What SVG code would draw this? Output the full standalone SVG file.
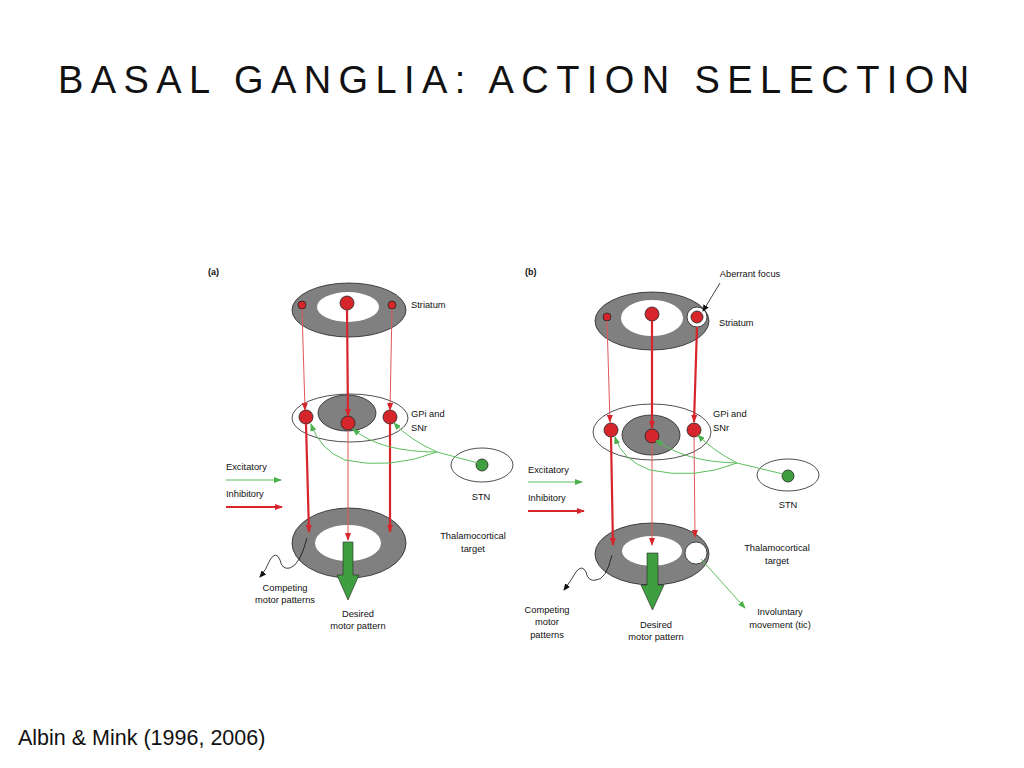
<svg xmlns="http://www.w3.org/2000/svg" width="1024" height="768" viewBox="0 0 1024 768">
<style>
text{font-family:"Liberation Sans",Arial,sans-serif;fill:#111}
.l{font-size:9.3px}
.c{text-anchor:middle}
.ring{fill:#808080;stroke:#222;stroke-width:0.8}
.hole{fill:#fff;stroke:none}
.open{fill:#fff;stroke:#222;stroke-width:0.8}
.n{fill:#d7262b;stroke:#222;stroke-width:0.8}
.g{fill:#3f9e3f;stroke:#222;stroke-width:0.8}
.rt{stroke:#e0575b;stroke-width:1;fill:none;marker-end:url(#ar)}
.rk{stroke:#d7262b;stroke-width:2.2;fill:none;marker-end:url(#ar)}
.gr{stroke:#5cbf5c;stroke-width:1;fill:none;marker-end:url(#ag)}
.bk{stroke:#111;stroke-width:0.8;fill:none;marker-end:url(#ak)}
</style>
<defs>
<marker id="ar" markerWidth="8" markerHeight="6" refX="7" refY="3" orient="auto" markerUnits="userSpaceOnUse"><path d="M0,0L8,3L0,6z" fill="#d7262b"/></marker>
<marker id="ag" markerWidth="8" markerHeight="6" refX="7" refY="3" orient="auto" markerUnits="userSpaceOnUse"><path d="M0,0L8,3L0,6z" fill="#4cb04c"/></marker>
<marker id="ak" markerWidth="7" markerHeight="6" refX="6" refY="3" orient="auto" markerUnits="userSpaceOnUse"><path d="M0,0L7,3L0,6z" fill="#111"/></marker>
</defs>
<text x="58" y="93" font-size="38" letter-spacing="7.4" font-weight="300">BASAL GANGLIA: ACTION SELECTION</text>
<text x="18" y="745" font-size="21.5">Albin &amp; Mink (1996, 2006)</text>

<g id="panel-a">
<text x="208" y="275" font-size="9" font-weight="bold">(a)</text>
<g id="a-striatum"><ellipse class="ring" cx="349" cy="310" rx="57" ry="27"/><ellipse class="hole" cx="348" cy="307" rx="31" ry="15"/>
<circle class="n" cx="302" cy="305" r="4"/><circle class="n" cx="347" cy="303" r="7"/><circle class="n" cx="392" cy="305" r="4"/>
<text class="l" x="411" y="308">Striatum</text></g>
<g id="a-gpi"><ellipse class="open" cx="350" cy="418" rx="58" ry="24"/><ellipse class="ring" cx="347" cy="413" rx="29" ry="18"/>
<circle class="n" cx="306" cy="417" r="7"/><circle class="n" cx="348" cy="423" r="7"/><circle class="n" cx="390" cy="417" r="7"/>
<text class="l" x="411" y="417">GPi and</text><text class="l" x="411" y="431">SNr</text></g>
<g id="a-stn"><ellipse class="open" cx="482" cy="465" rx="31" ry="17"/><circle class="g" cx="482" cy="465" r="6"/>
<text class="l c" x="481" y="500">STN</text></g>
<g id="a-thal"><ellipse class="ring" cx="349" cy="543" rx="57" ry="35"/><ellipse class="hole" cx="348" cy="543" rx="33" ry="18"/>
<path d="M343,542H353V575H359L348,600L337,575H343Z" fill="#3f9e3f" stroke="#222" stroke-width="0.6"/>
<text class="l c" x="473" y="539">Thalamocortical</text><text class="l c" x="473" y="552">target</text></g>
<text class="l c" x="285" y="591">Competing</text><text class="l c" x="285" y="603">motor patterns</text>
<text class="l c" x="358" y="617">Desired</text><text class="l c" x="358" y="629">motor pattern</text>
<text class="l" x="226" y="470">Excitatory</text><text class="l" x="226" y="497">Inhibitory</text>
<g id="a-connectors">
<line class="gr" x1="226" y1="480" x2="281" y2="480"/>
<line class="rk" x1="226" y1="507" x2="282" y2="507"/>
<line class="rt" x1="302" y1="309" x2="305" y2="410"/>
<line class="rk" x1="347" y1="310" x2="348" y2="416"/>
<line class="rt" x1="392" y1="309" x2="390" y2="410"/>
<line class="rk" x1="306" y1="424" x2="309" y2="532"/>
<line class="rt" x1="348" y1="430" x2="348" y2="540"/>
<line class="rk" x1="390" y1="424" x2="390" y2="532"/>
<path class="gr" d="M478,463L437,452Q410,440 394,423"/>
<path class="gr" d="M437,452Q380,452 353,429"/>
<path class="gr" d="M437,452Q390,470 345,460Q320,450 311,424"/>
<path class="bk" d="M307,538Q300,565 290,568Q282,570 280,560Q276,550 270,560Q266,570 260,577"/>
</g>
</g>

<g id="panel-b">
<text x="525" y="275" font-size="9" font-weight="bold">(b)</text>
<g id="b-striatum"><ellipse class="ring" cx="652" cy="321" rx="57" ry="29"/><ellipse class="hole" cx="652" cy="318" rx="31" ry="18"/>
<circle class="n" cx="607" cy="317" r="4"/><circle class="n" cx="652" cy="314" r="7"/><circle fill="#fff" stroke="#222" stroke-width="0.8" cx="697" cy="317" r="10"/><circle class="n" cx="697" cy="317" r="6"/>
<text class="l" x="719" y="326">Striatum</text>
<text class="l c" x="750" y="277">Aberrant focus</text></g>
<g id="b-gpi"><ellipse class="open" cx="652" cy="432" rx="59" ry="28"/><ellipse class="ring" cx="651" cy="435" rx="29" ry="20"/>
<circle class="n" cx="611" cy="430" r="7"/><circle class="n" cx="652" cy="436" r="7"/><circle class="n" cx="694" cy="430" r="7"/>
<text class="l" x="713" y="417">GPi and</text><text class="l" x="713" y="431">SNr</text></g>
<g id="b-stn"><ellipse class="open" cx="788" cy="475" rx="31" ry="16"/><circle class="g" cx="788" cy="476" r="6"/>
<text class="l c" x="788" y="508">STN</text></g>
<g id="b-thal"><ellipse class="ring" cx="652" cy="554" rx="57" ry="31"/><ellipse class="hole" cx="652" cy="551" rx="30" ry="15"/>
<circle fill="#fff" stroke="#222" stroke-width="0.8" cx="696" cy="553" r="11"/>
<path d="M647,553H658V585H664L652.5,610L641,585H647Z" fill="#3f9e3f" stroke="#222" stroke-width="0.6"/>
<text class="l c" x="777" y="551">Thalamocortical</text><text class="l c" x="777" y="564">target</text></g>
<text class="l c" x="547" y="613">Competing</text><text class="l c" x="547" y="625">motor</text><text class="l c" x="547" y="638">patterns</text>
<text class="l c" x="656" y="628">Desired</text><text class="l c" x="656" y="640">motor pattern</text>
<text class="l c" x="780" y="615">Involuntary</text><text class="l c" x="780" y="628">movement (tic)</text>
<text class="l" x="528" y="473">Excitatory</text><text class="l" x="528" y="501">Inhibitory</text>
<g id="b-connectors">
<line class="gr" x1="528" y1="482" x2="582" y2="482"/>
<line class="rk" x1="528" y1="511" x2="584" y2="511"/>
<line class="bk" x1="720" y1="283" x2="703" y2="311"/>
<line class="rt" x1="607" y1="321" x2="610" y2="422"/>
<line class="rk" x1="652" y1="321" x2="652" y2="428"/>
<line class="rk" x1="697" y1="327" x2="694" y2="422"/>
<line class="rk" x1="611" y1="437" x2="613" y2="545"/>
<line class="rt" x1="652" y1="443" x2="652" y2="545"/>
<line class="rt" x1="694" y1="437" x2="695" y2="537"/>
<path class="gr" d="M783,474L737,463Q712,450 698,435"/>
<path class="gr" d="M737,463Q685,462 656,440"/>
<path class="gr" d="M737,463Q695,480 650,470Q622,460 615,437"/>
<line class="gr" x1="701" y1="559" x2="745" y2="608"/>
<path class="bk" d="M612,555Q606,580 596,580Q588,582 586,572Q582,564 576,572Q570,582 564,590"/>
</g>
</g>
</svg>
